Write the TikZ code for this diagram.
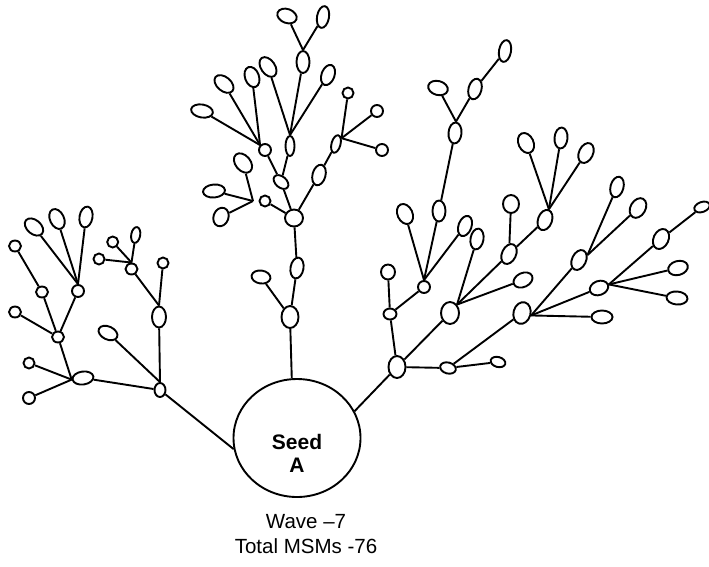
\documentclass[tikz,border=0pt]{standalone}
\usepackage{fontspec}
\setmainfont{Liberation Sans}
\usepackage{tikz}
\usetikzlibrary{shapes.geometric}

\begin{document}
\begin{tikzpicture}[x=1pt, y=-1pt, line width=1.9pt,
    msm/.style 2 args={draw, ellipse, inner sep=0pt, minimum width=#1, minimum height=#2},
    dot/.style={msm={11}{11}}]
\useasboundingbox (0,0) rectangle (709,566);

% seed and its labels
\node[draw, ellipse, minimum width=127, minimum height=118] (seed) at (297,438) {};
\node[font=\bfseries\fontsize{21}{23.5}\selectfont, align=center, inner sep=0pt] (seedtxt) at (297,453.5) {Seed\\A};
\node[font=\fontsize{20.5}{25}\selectfont, align=center, inner sep=0pt] (wave) at (306,534) {Wave –7\\Total MSMs -76};

% left branch
\node[msm={11}{14}] (la) at (160,390) {};
\node[msm={21}{13}, rotate=8] (L2) at (83,378) {};
\node[msm={14}{21}] (L3) at (159,317) {};
\node[msm={20}{13}, rotate=-25] (L4) at (108,333) {};
\node[dot] (L5) at (163,263) {};
\node[msm={12}{11}] (L6) at (131.5,269) {};
\node[dot] (L7) at (112.7,242) {};
\node[msm={9}{16}, rotate=-10] (L8) at (135.7,235) {};
\node[dot] (L9) at (99,259) {};
\node[dot] (L10) at (29,363) {};
\node[msm={12}{12}] (L11) at (29,398) {};
\node[msm={12}{11}] (L12) at (58,337) {};
\node[msm={12}{11}] (L13) at (15,312) {};
\node[msm={12}{11}] (L14) at (42,292) {};
\node[msm={12}{12}] (L15) at (78,291) {};
\node[msm={12}{11}] (L16) at (15,246) {};
\node[msm={21}{14}, rotate=-40] (L17) at (34,227) {};
\node[msm={14}{21}, rotate=25] (L18) at (57,219) {};
\node[msm={13}{21}, rotate=-10] (L19) at (86,217) {};

% middle branch
\node[msm={17}{22}] (M1) at (290,317) {};
\node[msm={13}{21}, rotate=-10] (M2) at (297,268) {};
\node[msm={19}{13}, rotate=-8] (M3) at (261,277) {};
\node[msm={18}{17}] (M4) at (294,218) {};
\node[dot] (M5) at (265,201) {};
\node[msm={17}{11}, rotate=-40] (M6) at (281,182) {};
\node[msm={13}{21}, rotate=-15] (M7) at (319,175) {};
\node[msm={9}{18}, rotate=-15] (M8) at (336,144) {};
\node[dot] (M9) at (348,93) {};
\node[msm={12}{12}] (M10) at (377,111) {};
\node[msm={12}{12}] (M11) at (382,150) {};
\coordinate (J) at (253,201);
\node[msm={22}{15}, rotate=-50] (M13) at (243,163) {};
\node[msm={22}{13}, rotate=5] (M14) at (214,191) {};
\node[msm={15}{19}, rotate=-20] (M15) at (221,217) {};
\node[msm={12}{12}] (M16) at (265,150) {};
\node[msm={9}{20}] (M17) at (290,146) {};
\node[msm={22}{13}, rotate=-10] (M18) at (202,111) {};
\node[msm={22}{14}, rotate=-40] (M19) at (224,84) {};
\node[msm={14}{21}, rotate=20] (M20) at (252,77) {};
\node[msm={14}{22}, rotate=35] (M21) at (268,67) {};
\node[msm={13}{22}] (M22) at (303,62) {};
\node[msm={13}{21}, rotate=-20] (M23) at (328,75) {};
\node[msm={20}{14}, rotate=-20] (M24) at (287,16) {};
\node[msm={12}{22}, rotate=-10] (M25) at (323,17) {};

% right branch
\node[msm={17}{22}] (R1) at (397,367) {};
\node[msm={16}{11}, rotate=-15] (R2) at (448,368) {};
\node[msm={15}{10}, rotate=-15] (R3) at (498,362) {};
\node[msm={17}{22}, rotate=-15] (R4) at (522,313) {};
\node[msm={18}{22}] (R5) at (450,313) {};
\node[msm={13}{11}] (R6) at (390,314) {};
\node[msm={14}{15}] (R7) at (388,272) {};
\node[msm={12}{12}] (R8) at (424,287) {};
\node[msm={15}{21}, rotate=25] (R9) at (405,214) {};
\node[msm={13}{21}] (R10) at (439,211) {};
\node[msm={13}{21}, rotate=-20] (R11) at (465,226) {};
\node[msm={13}{21}, rotate=-5] (R12) at (455,133) {};
\node[msm={20}{14}, rotate=-15] (R13) at (438,88) {};
\node[msm={13}{21}, rotate=-15] (R14) at (475,89) {};
\node[msm={12}{22}, rotate=-10] (R15) at (505,51) {};
\node[msm={13}{21}, rotate=-10] (R16) at (477,239) {};
\node[msm={14}{21}, rotate=-25] (R17) at (509,254) {};
\node[msm={20}{14}, rotate=25] (R18) at (523,280) {};
\node[msm={16}{18}] (R19) at (511,204) {};
\node[msm={14}{21}, rotate=-20] (R20) at (545,220) {};
\node[msm={15}{21}, rotate=25] (R21) at (526,143) {};
\node[msm={13}{21}, rotate=-5] (R22) at (561,138) {};
\node[msm={14}{21}, rotate=-25] (R23) at (586,153) {};
\node[msm={21}{13}] (R24) at (602,317) {};
\node[msm={19}{14}, rotate=20] (R25) at (599,288) {};
\node[msm={14}{21}, rotate=-25] (R26) at (579,260) {};
\node[msm={20}{14}, rotate=15] (R27) at (678,268) {};
\node[msm={21}{13}, rotate=-5] (R28) at (677,298) {};
\node[msm={15}{21}, rotate=-25] (R29) at (661,239) {};
\node[msm={16}{10}, rotate=20] (R30) at (702,207) {};
\node[msm={13}{21}, rotate=-15] (R31) at (617,187) {};
\node[msm={15}{21}, rotate=-30] (R32) at (638,208) {};

% connectors, left
\draw (la) -- (seed.190);
\draw (la) -- (L2);
\foreach \c in {L3,L4} \draw (la.north) -- (\c);
\foreach \c in {L10,L11,L12} \draw (L2.west) -- (\c);
\foreach \c in {L5,L6} \draw (L3.north) -- (\c);
\foreach \c in {L7,L8,L9} \draw (L6.north) -- (\c);
\foreach \c in {L13,L14,L15} \draw (L12) -- (\c);
\draw (L14) -- (L16);
\foreach \c in {L17,L18,L19} \draw (L15.north) -- (\c);

% connectors, middle
\draw (M1) -- (seed.95);
\foreach \c in {M2,M3} \draw (M1) -- (\c);
\draw (M2) -- (M4);
\foreach \c in {M5,M6,M7} \draw (M4) -- (\c);
\foreach \c in {M13,M14,M15} \draw (J) -- (\c);
\foreach \c in {M16,M17} \draw (M6) -- (\c);
\foreach \c in {M18,M19,M20} \draw (M16.north west) -- (\c);
\foreach \c in {M21,M22,M23} \draw (M17.north) -- (\c);
\foreach \c in {M24,M25} \draw (M22.north) -- (\c);
\draw (M7) -- (M8);
\foreach \c in {M9,M10,M11} \draw (M8.north east) -- (\c);

% connectors, right
\draw (R1) -- (seed.25);
\foreach \c in {R2,R5,R6} \draw (R1) -- (\c);
\foreach \c in {R7,R8} \draw (R6) -- (\c);
\foreach \c in {R9,R10,R11} \draw (R8.north) -- (\c);
\draw (R10) -- (R12);
\foreach \c in {R13,R14} \draw (R12.north) -- (\c);
\draw (R14) -- (R15);
\foreach \c in {R16,R17,R18} \draw (R5.north east) -- (\c);
\foreach \c in {R19,R20} \draw (R17) -- (\c);
\foreach \c in {R21,R22,R23} \draw (R20.north) -- (\c);
\foreach \c in {R3,R4} \draw (R2) -- (\c);
\foreach \c in {R24,R25,R26} \draw (R4.east) -- (\c);
\foreach \c in {R27,R28,R29} \draw (R25.east) -- (\c);
\draw (R29) -- (R30);
\foreach \c in {R31,R32} \draw (R26.north east) -- (\c);
\end{tikzpicture}
\end{document}
